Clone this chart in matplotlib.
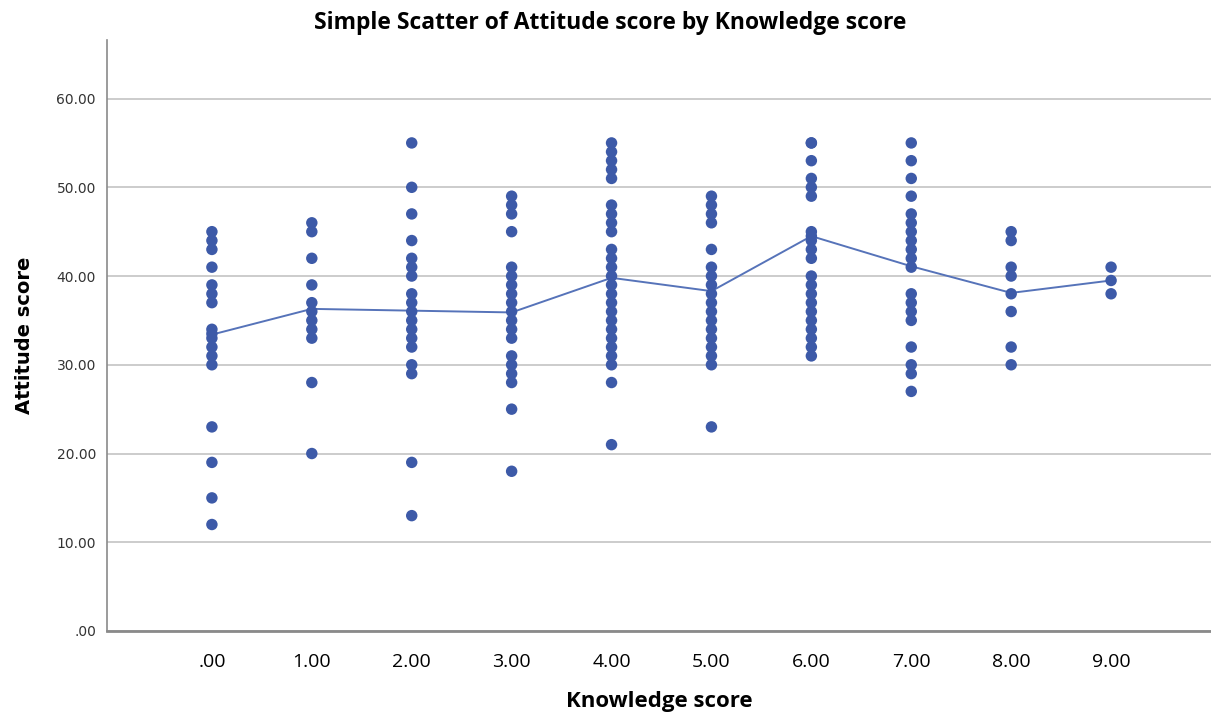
import numpy as np
import matplotlib.pyplot as plt

# Attitude scores observed at each knowledge score
k0 = [45, 44, 43, 41, 39, 38, 37, 34, 33.5, 33, 32, 31, 30, 23, 19, 15, 12]
k1 = [46, 45, 42, 39, 37, 36, 35, 34, 33, 28, 20]
k2 = [55, 50, 47, 44, 42, 41, 40, 38, 37, 36, 35, 34, 33, 32, 30, 29, 19, 13]
k3 = [49, 48, 47, 45, 41, 40, 39, 38, 37, 36, 35, 34, 33, 31, 30, 29, 28, 25, 18]
k4 = [55, 54, 53, 52, 51, 48, 47, 46, 45, 43, 42, 41, 40, 39, 38, 37, 36,
      35, 34, 33, 32, 31, 30, 28, 21]
k5 = [49, 48, 47, 46, 43, 41, 40, 39, 38, 37, 36, 35, 34, 33, 32, 31, 30, 23]
k6 = [55, 55, 53, 51, 50, 49, 45, 44.5, 44, 43, 42, 40, 39, 38, 37, 36, 35,
      34, 33, 32, 31]
k7 = [55, 53, 51, 49, 47, 46, 45, 44, 43, 42, 41, 38, 37, 36, 35, 32, 30, 29, 27]
k8 = [45, 44, 41, 40, 38, 36, 32, 30]
k9 = [41, 39.5, 38]
groups = [k0, k1, k2, k3, k4, k5, k6, k7, k8, k9]

knowledge = list(range(10))
mean_attitude = [33.4, 36.3, 36.1, 35.9, 39.8, 38.3, 44.5, 41.1, 38.1, 39.5]

x_labels = ['.00', '1.00', '2.00', '3.00', '4.00', '5.00', '6.00', '7.00', '8.00', '9.00']
y_ticks = [0, 10, 20, 30, 40, 50, 60]
y_labels = ['.00', '10.00', '20.00', '30.00', '40.00', '50.00', '60.00']

blue = '#3d5aa8'

fig = plt.figure(figsize=(12.11, 7.12), dpi=100)
ax = fig.add_axes([107 / 1211, 81 / 712, 1104 / 1211, 591 / 712])

for k, vals in zip(knowledge, groups):
    ax.scatter([k] * len(vals), vals, s=68, color=blue, edgecolors='none', zorder=3)

ax.plot(knowledge, mean_attitude, color='#5673b9', linewidth=1.4, zorder=2)

ax.set_xlim(-1.05, 10.0)
ax.set_ylim(0, 66.6)
ax.set_xticks(knowledge)
ax.set_xticklabels(x_labels, fontsize=14, family='Open Sans')
ax.set_yticks(y_ticks)
ax.set_yticklabels(y_labels, fontsize=10, color='#333333')
ax.tick_params(axis='both', length=0)
ax.tick_params(axis='x', pad=16)
ax.tick_params(axis='y', pad=8)

ax.grid(axis='y', color='#c8c8c8', linewidth=1.3)
ax.set_axisbelow(True)
for side in ['top', 'right']:
    ax.spines[side].set_visible(False)
ax.spines['left'].set_color('#8a8a8a')
ax.spines['left'].set_linewidth(1.2)
ax.spines['bottom'].set_color('#8a8a8a')
ax.spines['bottom'].set_linewidth(2.0)

ax.set_xlabel('Knowledge score', fontsize=16, fontweight='bold', family='Open Sans', labelpad=14)
ax.set_ylabel('Attitude score', fontsize=14, fontweight='bold', labelpad=16)
fig.text(0.504, 0.968, 'Simple Scatter of Attitude score by Knowledge score',
         ha='center', va='center', fontsize=16.5, fontweight='bold', family='Open Sans')

fig.savefig('out.png', dpi=100)
